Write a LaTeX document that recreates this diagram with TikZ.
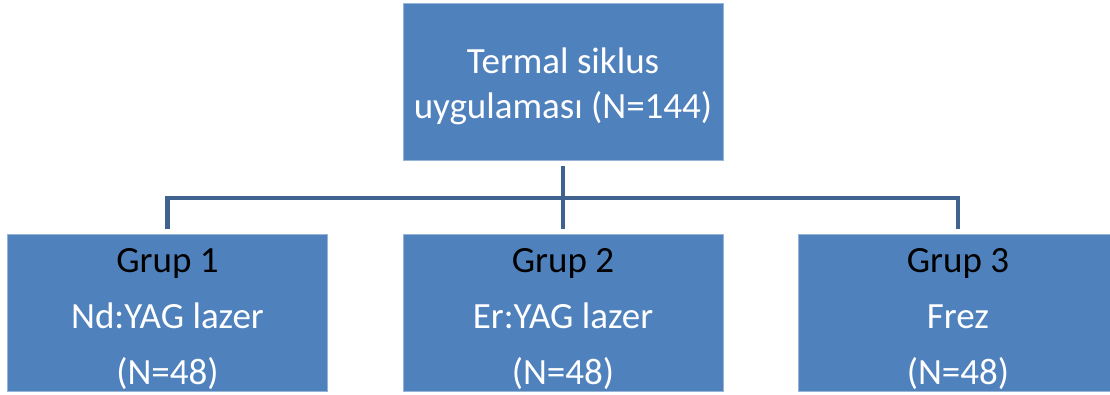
\documentclass[tikz,border=0pt]{standalone}
\usepackage{fontspec}
\setmainfont{Carlito}
\usepackage{tikz}
\usetikzlibrary{positioning}
\usetikzlibrary{calc}
\definecolor{boxblu}{RGB}{79,129,189}
\definecolor{lineblu}{RGB}{64,98,142}
\definecolor{edgeblu}{RGB}{150,180,215}
\newcommand{\tallstrut}{\rule{0pt}{36pt}}
\tikzset{
  tree/.style={
    group box/.style={rectangle, fill=boxblu, draw=edgeblu, line width=0.8pt,
        minimum width=320pt, minimum height=157pt, inner sep=0pt,
        align=center, text=white},
    top font/.style={font={\fontsize{37}{45}\selectfont}},
    group font/.style={font={\fontsize{37}{56}\selectfont}},
    link/.style={lineblu, line width=4.5pt, line join=miter},
  }
}
\begin{document}
\begin{tikzpicture}[tree, x=1pt, y=-1pt]
    \useasboundingbox (0,0) rectangle (1110,394);
    % top box
    \node[group box, top font] (top) at (563,81.5) {\tallstrut Termal siklus\\uygulaması (N=144)};
    % groups
    \node[group box, group font] (g1) at (167.5,313) {\tallstrut\textcolor{black}{Grup 1}\\Nd:YAG lazer\\(N=48)};
    \node[group box, group font] (g2) at (563,313) {\tallstrut\textcolor{black}{Grup 2}\\Er:YAG lazer\\(N=48)};
    \node[group box, group font] (g3) at (958,313) {\tallstrut\textcolor{black}{Grup 3}\\Frez\\(N=48)};
    % connectors
    \coordinate (bar) at (563,198);
    \draw[link] ([yshift=-6pt]top.south) -- ([yshift=5pt]g2.north);
    \draw[link] ([yshift=5pt]g1.north) |- (bar) -| ([yshift=5pt]g3.north);
\end{tikzpicture}
\end{document}
